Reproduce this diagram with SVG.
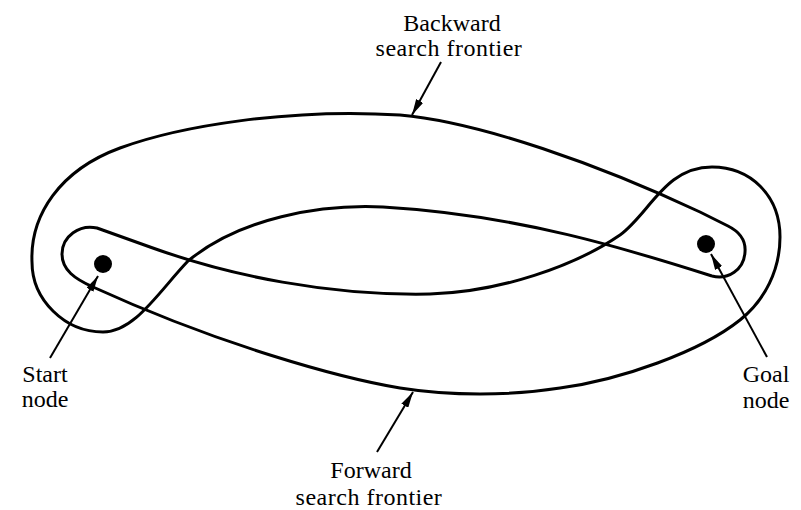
<svg xmlns="http://www.w3.org/2000/svg" width="801" height="510" viewBox="0 0 801 510">
  <style>
    .frontier { fill: none; stroke: #000; stroke-width: 3; stroke-linejoin: round; stroke-linecap: round; }
    .arrow { fill: none; stroke: #000; stroke-width: 2; marker-end: url(#head); }
    .dot { fill: #000; }
    .lbl { font-family: "Liberation Serif", "Times New Roman", serif; font-size: 24px; fill: #000; text-anchor: middle; }
    .wide { letter-spacing: 0.5px; }
  </style>
  <defs>
    <marker id="head" viewBox="0 0 16 8" refX="16" refY="4" markerWidth="16" markerHeight="8" markerUnits="userSpaceOnUse" orient="auto">
      <path d="M0,0 L16,4 L0,8 z" fill="#000"/>
    </marker>
  </defs>
  <rect x="0" y="0" width="801" height="510" fill="#fff"/>

  <g id="backward-frontier">
    <path class="frontier" d="M 400,115 C 480,122 600,165 700,212 L 728,226 C 740,232 746,240 745,252 C 744,270 728,280 712,276 C 630,250 520,215 383,207 C 320,204 240,218 188,261 C 160,290 135,332 103,332 C 65,332 32,300 32,262 C 30,215 60,170 120,148 C 180,126 290,108 400,115 Z"/>
    <text class="lbl" x="452" y="31">Backward</text>
    <text class="lbl wide" x="449" y="56">search frontier</text>
  </g>

  <g id="forward-frontier">
    <path class="frontier" d="M 97,228 L 150,247 C 230,276 330,296 430,294 C 500,292 575,266 620,235 C 650,213 665,167 712,167 C 750,167 780,195 780,237 C 780,270 765,300 740,320 C 700,352 620,380 560,388 C 510,396 450,396 400,388 C 340,378 220,345 93,287 C 75,279 62,270 62,254 C 62,236 80,224 97,228 Z"/>
    <text class="lbl" x="371" y="478">Forward</text>
    <text class="lbl wide" x="369" y="505">search frontier</text>
  </g>

  <g id="start-node">
    <circle class="dot" cx="103" cy="264" r="9"/>
    <text class="lbl" x="45" y="382">Start</text>
    <text class="lbl" x="45" y="407">node</text>
  </g>

  <g id="goal-node">
    <circle class="dot" cx="706" cy="244" r="9"/>
    <text class="lbl" x="766" y="382">Goal</text>
    <text class="lbl" x="766" y="408">node</text>
  </g>

  <g id="connectors">
    <path class="arrow" d="M 441,62 L 412,115"/>
    <path class="arrow" d="M 377,452 L 413,392"/>
    <path class="arrow" d="M 50,358 L 98,276"/>
    <path class="arrow" d="M 767,357 L 711,254"/>
  </g>
</svg>
